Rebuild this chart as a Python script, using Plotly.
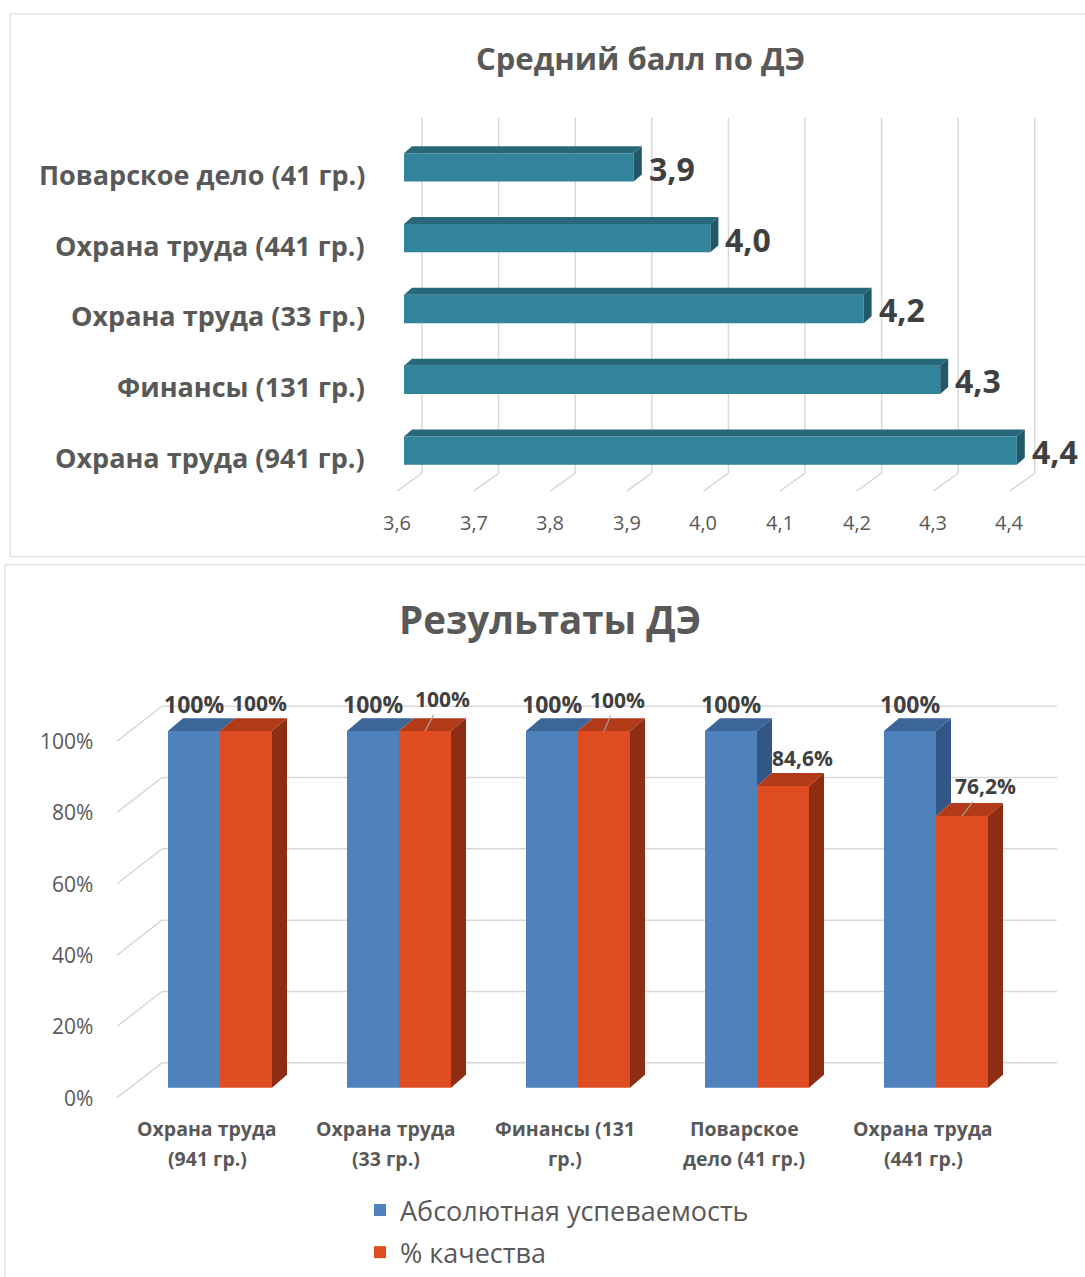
import plotly.graph_objects as go

# ---------------- data ----------------
top_title = "Средний балл по ДЭ"
top_categories = ["Поварское дело (41 гр.)", "Охрана труда (441 гр.)", "Охрана труда (33 гр.)",
                  "Финансы (131 гр.)", "Охрана труда (941 гр.)"]
top_values = [3.9, 4.0, 4.2, 4.3, 4.4]
top_value_labels = ["3,9", "4,0", "4,2", "4,3", "4,4"]
top_ticks = [3.6, 3.7, 3.8, 3.9, 4.0, 4.1, 4.2, 4.3, 4.4]
top_tick_labels = ["3,6", "3,7", "3,8", "3,9", "4,0", "4,1", "4,2", "4,3", "4,4"]

bot_title = "Результаты ДЭ"
bot_categories = ["Охрана труда<br>(941 гр.)", "Охрана труда<br>(33 гр.)", "Финансы (131<br>гр.)",
                  "Поварское<br>дело (41 гр.)", "Охрана труда<br>(441 гр.)"]
series_names = ["Абсолютная успеваемость", "% качества"]
abs_values = [100, 100, 100, 100, 100]
qual_values = [100, 100, 100, 84.6, 76.2]
abs_labels = ["100%", "100%", "100%", "100%", "100%"]
qual_labels = ["100%", "100%", "100%", "84,6%", "76,2%"]
bot_ticks = [0, 20, 40, 60, 80, 100]
bot_tick_labels = ["0%", "20%", "40%", "60%", "80%", "100%"]

# ---------------- style ----------------
W, H = 1085, 1277
FONT = "Open Sans"
TXT = "#595959"
DARK = "#404040"
GRID = "#D9D9D9"
TEAL, TEAL_TOP, TEAL_SIDE = "#31849B", "#27687A", "#215868"
BLUE, BLUE_TOP, BLUE_SIDE = "#4F81BD", "#3D6698", "#335784"
RED, RED_TOP, RED_SIDE = "#E04C21", "#B23A18", "#8C2D14"

def px(x):
    return x / W

def py(y):
    return 1 - y / H

# ---- top chart scale (pixel geometry of the axis) ----
TX0, TXS = 404, 766.0   # pixel of 3.6, pixels per unit
TY0, TYS = 168, 71.1    # pixel of first category, pixels per category
base_val = top_ticks[0]
tx_range = [base_val + (366 - TX0) / TXS, base_val + (1085 - TX0) / TXS]
ty_range = [(500 - TY0) / TYS, (100 - TY0) / TYS]

def ty(pix):
    return (pix - TY0) / TYS

# ---- bottom chart scale ----
BX0, BXS = 220, 179.0   # pixel of group 0 center, pixels per group
BY0, BYS = 1092, 3.58   # pixel of 0%, pixels per %
bx_range = [(60 - BX0) / BXS, (1085 - BX0) / BXS]
by_range = [(BY0 - 1112) / BYS, (BY0 - 640) / BYS]

def bxp(pix):
    return (pix - BX0) / BXS

fig = go.Figure()

# ================= TOP CHART =================
tidx = list(range(len(top_categories)))
bar_h = 0.40
fig.add_trace(go.Bar(
    y=tidx, x=[v - base_val for v in top_values], base=base_val, orientation="h",
    width=bar_h, marker=dict(color=TEAL, line=dict(width=0)),
    xaxis="x", yaxis="y", showlegend=False, hoverinfo="skip"))

dx_t, dy_t = 8 / TXS, 7 / TYS
top_x, top_y, side_x, side_y = [], [], [], []
for i, v in zip(tidx, top_values):
    t = i - bar_h / 2
    b = i + bar_h / 2
    top_x += [base_val, v, v + dx_t, base_val + dx_t, base_val, None]
    top_y += [t, t, t - dy_t, t - dy_t, t, None]
    side_x += [v, v, v + dx_t, v + dx_t, v, None]
    side_y += [t, b, b - dy_t, t - dy_t, t, None]
fig.add_trace(go.Scatter(x=top_x, y=top_y, fill="toself", fillcolor=TEAL_TOP, mode="lines",
                         line=dict(width=0, color=TEAL_TOP), xaxis="x", yaxis="y",
                         showlegend=False, hoverinfo="skip"))
fig.add_trace(go.Scatter(x=side_x, y=side_y, fill="toself", fillcolor=TEAL_SIDE, mode="lines",
                         line=dict(width=0, color=TEAL_SIDE), xaxis="x", yaxis="y",
                         showlegend=False, hoverinfo="skip"))

shapes = []
annotations = []
for t in top_ticks:
    xb = t + 18 / TXS
    xf = t - 7 / TXS
    shapes.append(dict(type="line", xref="x", yref="y", x0=xb, x1=xb, y0=ty(118), y1=ty(475),
                       line=dict(color=GRID, width=1.5), layer="below"))
    shapes.append(dict(type="line", xref="x", yref="y", x0=xb, x1=xf, y0=ty(475), y1=ty(493),
                       line=dict(color=GRID, width=1.5), layer="below"))

for t, lab in zip(top_ticks, top_tick_labels):
    annotations.append(dict(x=t, xref="x", y=py(525), yref="paper", text=lab, showarrow=False,
                            xanchor="center", yanchor="middle", xshift=-7,
                            font=dict(family=FONT, size=20, color=TXT)))
for i, c in zip(tidx, top_categories):
    annotations.append(dict(x=px(367), xref="paper", y=i, yref="y", text="<b>%s</b>" % c,
                            showarrow=False, xanchor="right", yanchor="middle", yshift=-7,
                            font=dict(family=FONT, size=27, color=TXT)))
for i, v, lab in zip(tidx, top_values, top_value_labels):
    annotations.append(dict(x=v, xref="x", y=i, yref="y", text="<b>%s</b>" % lab, showarrow=False,
                            xanchor="left", yanchor="middle", xshift=13, yshift=-1,
                            font=dict(family=FONT, size=32, color=DARK)))
annotations.append(dict(x=px(640), y=py(58), xref="paper", yref="paper", text="<b>%s</b>" % top_title,
                        showarrow=False, xanchor="center", yanchor="middle",
                        font=dict(family=FONT, size=31, color=TXT)))

# ================= BOTTOM CHART =================
gidx = list(range(len(bot_categories)))
bw = 52 / BXS
off = bw / 2
blue_x = [g - off for g in gidx]
red_x = [g + off for g in gidx]
fig.add_trace(go.Bar(x=blue_x, y=abs_values, width=bw, name=series_names[0], legendgroup="a",
                     marker=dict(color=BLUE, line=dict(width=0)), xaxis="x2", yaxis="y2",
                     hoverinfo="skip"))
fig.add_trace(go.Bar(x=red_x, y=qual_values, width=bw, name=series_names[1], legendgroup="b",
                     marker=dict(color=RED, line=dict(width=0)), xaxis="x2", yaxis="y2",
                     hoverinfo="skip"))

dx_b, dy_b = 15 / BXS, 13 / BYS
bt_x, bt_y, bs_x, bs_y = [], [], [], []
rt_x, rt_y, rs_x, rs_y = [], [], [], []
for g, a, q in zip(gidx, abs_values, qual_values):
    l, r = g - 2 * off, g
    bt_x += [l, r, r + dx_b, l + dx_b, l, None]
    bt_y += [a, a, a + dy_b, a + dy_b, a, None]
    if a > q:
        bs_x += [r, r + dx_b, r + dx_b, r, r, None]
        bs_y += [a, a + dy_b, q + dy_b, q, a, None]
    l2, r2 = g, g + 2 * off
    rt_x += [l2, r2, r2 + dx_b, l2 + dx_b, l2, None]
    rt_y += [q, q, q + dy_b, q + dy_b, q, None]
    rs_x += [r2, r2, r2 + dx_b, r2 + dx_b, r2, None]
    rs_y += [q, 0, dy_b, q + dy_b, q, None]
for xs, ys, col in [(bs_x, bs_y, BLUE_SIDE), (bt_x, bt_y, BLUE_TOP), (rs_x, rs_y, RED_SIDE),
                    (rt_x, rt_y, RED_TOP)]:
    fig.add_trace(go.Scatter(x=xs, y=ys, fill="toself", fillcolor=col, mode="lines",
                             line=dict(width=0, color=col), xaxis="x2", yaxis="y2",
                             showlegend=False, hoverinfo="skip"))

for t in bot_ticks:
    yb = t + 25 / BYS
    yf = t - 10 / BYS
    shapes.append(dict(type="line", xref="x2", yref="y2", x0=bxp(162), x1=bxp(1057), y0=yb, y1=yb,
                       line=dict(color=GRID, width=1.5), layer="below"))
    shapes.append(dict(type="line", xref="x2", yref="y2", x0=bxp(117), x1=bxp(162), y0=yf, y1=yb,
                       line=dict(color=GRID, width=1.5), layer="below"))

for t, lab in zip(bot_ticks, bot_tick_labels):
    annotations.append(dict(x=px(95), xref="paper", y=t, yref="y2", text=lab, showarrow=False,
                            xanchor="right", yanchor="middle", yshift=-10,
                            font=dict(family=FONT, size=21, color=TXT)))
for g, c in zip(gidx, bot_categories):
    for k, line in enumerate(c.split("<br>")):
        annotations.append(dict(x=g, xref="x2", y=py(1133 + 30 * k), yref="paper",
                                text="<b>%s</b>" % line, showarrow=False, xshift=-13,
                                xanchor="center", yanchor="middle",
                                font=dict(family=FONT, size=19.5, color=TXT)))
for g, a, lab in zip(gidx, abs_values, abs_labels):
    annotations.append(dict(x=g - off, xref="x2", y=a, yref="y2", text="<b>%s</b>" % lab,
                            showarrow=False, xanchor="center", yanchor="middle", yshift=27,
                            font=dict(family=FONT, size=23, color=DARK)))
red_shift = [(13, 28, False), (17, 32, True), (13, 31, True), (19, 28, False), (23, 30, True)]
for g, q, lab, (sx, sy, leader) in zip(gidx, qual_values, qual_labels, red_shift):
    if leader:
        annotations.append(dict(x=g + off, xref="x2", y=q, yref="y2", text="<b>%s</b>" % lab,
                                showarrow=True, arrowhead=0, arrowwidth=1.2, arrowcolor="#A6A6A6",
                                ax=sx, ay=-sy, standoff=0,
                                font=dict(family=FONT, size=21, color=DARK)))
    else:
        annotations.append(dict(x=g + off, xref="x2", y=q, yref="y2", text="<b>%s</b>" % lab,
                                showarrow=False, xanchor="center", yanchor="middle",
                                xshift=sx, yshift=sy,
                                font=dict(family=FONT, size=21, color=DARK)))
annotations.append(dict(x=px(550), y=py(621), xref="paper", yref="paper", text="<b>%s</b>" % bot_title,
                        showarrow=False, xanchor="center", yanchor="middle",
                        font=dict(family=FONT, size=38.5, color=TXT)))

# frames
shapes.append(dict(type="rect", xref="paper", yref="paper", x0=px(10), x1=px(1092), y0=py(559), y1=py(14),
                   line=dict(color=GRID, width=1), layer="below"))
shapes.append(dict(type="rect", xref="paper", yref="paper", x0=px(5), x1=px(1092), y0=py(1284), y1=py(567),
                   line=dict(color=GRID, width=1), layer="below"))

axis_off = dict(showgrid=False, zeroline=False, showticklabels=False, showline=False, ticks="")
fig.update_layout(
    width=W, height=H, margin=dict(l=0, r=0, t=0, b=0),
    paper_bgcolor="white", plot_bgcolor="rgba(0,0,0,0)",
    barmode="overlay",
    xaxis=dict(domain=[px(366), 1.0], range=tx_range, anchor="y", **axis_off),
    yaxis=dict(domain=[py(500), py(100)], range=ty_range, anchor="x", **axis_off),
    xaxis2=dict(domain=[px(60), 1.0], range=bx_range, anchor="y2", **axis_off),
    yaxis2=dict(domain=[py(1112), py(640)], range=by_range, anchor="x2", **axis_off),
    shapes=shapes, annotations=annotations,
    legend=dict(x=px(360), y=py(1191), xanchor="left", yanchor="top", orientation="v",
                font=dict(family=FONT, size=27, color=TXT), bgcolor="rgba(0,0,0,0)",
                itemclick=False, tracegroupgap=4),
    font=dict(family=FONT),
)

fig.write_html("out.html", config={"displayModeBar": False},
               post_script="document.body.style.margin='0px';document.body.style.overflow='hidden';")
